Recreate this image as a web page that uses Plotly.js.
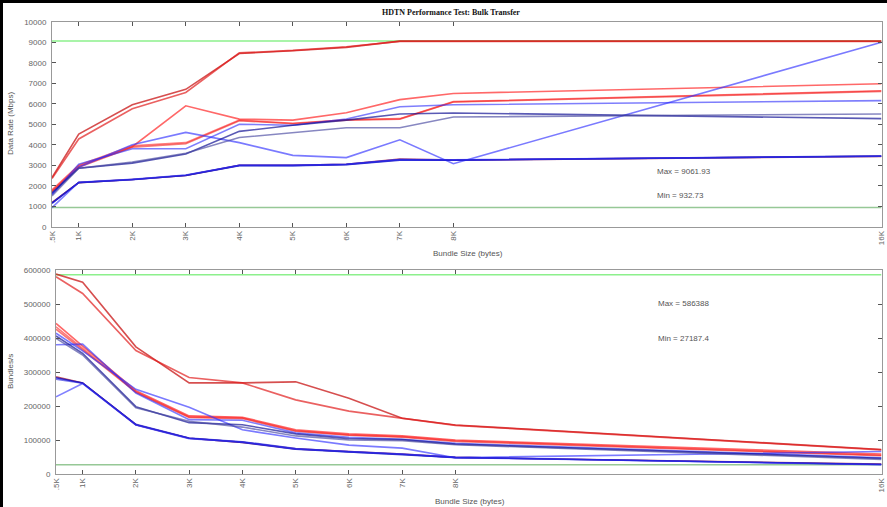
<!DOCTYPE html>
<html>
<head>
<meta charset="utf-8">
<script src="https://cdn.plot.ly/plotly-3.0.1.min.js"></script>
<style>
html,body{margin:0;padding:0;background:#000;overflow:hidden;}
#chart{position:absolute;left:3px;top:3px;width:884px;height:504px;background:#fff;}
</style>
</head>
<body>
<div id="chart"></div>
<script>
// ---- data ----
var bundleSizeK = [0.5, 1, 2, 3, 4, 5, 6, 7, 8, 16];
var bundleSizeLabels = ['.5K', '1K', '2K', '3K', '4K', '5K', '6K', '7K', '8K', '16K'];
var rateTicks = [0, 1000, 2000, 3000, 4000, 5000, 6000, 7000, 8000, 9000, 10000];
var bundleTicks = [0, 100000, 200000, 300000, 400000, 500000, 600000];

// Data rate (Mbps)
var rateR1 = [2400, 4520, 5950, 6700, 8450, 8580, 8750, 9050, 9050, 9050];
var rateR2 = [2350, 4280, 5750, 6550, 8480, 8600, 8780, 9040, 9040, 9040];
var rateR3 = [1750, 2950, 3900, 5900, 5250, 5200, 5560, 6200, 6500, 6970];
var rateR4 = [1800, 3000, 3950, 4100, 5200, 5050, 5220, 5270, 6100, 6630];
var rateR5 = [1700, 2900, 3880, 4050, 5170, 5020, 5200, 5250, 6080, 6600];
var rateR6 = [1180, 2150, 2300, 2500, 3000, 3000, 3050, 3300, 3250, 3430];
var rateB1 = [1600, 2900, 4000, 4600, 4100, 3480, 3370, 4240, 3070, 9000];
var rateB2 = [1560, 3050, 3800, 3800, 5000, 4950, 5250, 5850, 5950, 6150];
var rateB3 = [1650, 2850, 3100, 3550, 4650, 4950, 5200, 5500, 5550, 5270];
var rateB4 = [1500, 2850, 3150, 3580, 4350, 4600, 4830, 4830, 5350, 5500];
var rateB5 = [1150, 2150, 2300, 2500, 2980, 2980, 3030, 3250, 3250, 3450];
var rateB6 = [933, 2170, 2310, 2520, 3000, 2990, 3050, 3280, 3260, 3440];
var rateB7 = [1140, 2160, 2290, 2510, 2990, 2990, 3040, 3270, 3240, 3440];
var rateMax = 9061.93;
var rateMin = 932.73;

// Bundles per second
var bpsR1 = [588000, 564000, 374000, 268000, 268000, 271000, 223000, 164000, 144000, 72000];
var bpsR2 = [580000, 531000, 363000, 284000, 268000, 218000, 185000, 164000, 143000, 71000];
var bpsR3 = [443000, 376000, 245000, 171000, 167000, 130000, 118000, 112000, 100000, 59000];
var bpsR4 = [433000, 370000, 242000, 168000, 165000, 127000, 115000, 110000, 98000, 55000];
var bpsR5 = [426000, 365000, 240000, 166000, 163000, 126000, 114000, 108000, 96000, 54000];
var bpsR6 = [286000, 268000, 145000, 105000, 93000, 74000, 66000, 59000, 49000, 29000];
var bpsB1 = [414000, 362000, 249000, 196000, 130000, 106000, 85000, 76000, 48000, 66000];
var bpsB2 = [380000, 382000, 238000, 160000, 158000, 121000, 108000, 102000, 90000, 48000];
var bpsB3 = [406000, 355000, 198000, 151000, 145000, 118000, 104000, 101000, 88000, 46000];
var bpsB4 = [399000, 350000, 195000, 155000, 138000, 112000, 100000, 98000, 86000, 43000];
var bpsB5 = [283000, 268000, 145000, 105000, 93000, 73000, 65000, 58000, 49000, 28000];
var bpsB6 = [227000, 266000, 144000, 104000, 94000, 74000, 66000, 59000, 49000, 27187];
var bpsB7 = [279000, 267000, 146000, 106000, 95000, 75000, 65000, 58000, 48000, 28500];
var bpsMax = 586388;
var bpsMin = 27187.4;

// ---- styling ----
var seriesColors = {
  R1: 'rgba(200,20,20,0.75)', R2: 'rgba(225,30,30,0.7)', R3: 'rgba(255,40,40,0.7)',
  R4: 'rgba(255,50,50,0.65)', R5: 'rgba(240,30,30,0.6)', R6: 'rgba(170,20,40,0.7)',
  B1: 'rgba(50,50,255,0.65)', B2: 'rgba(40,40,250,0.6)', B3: 'rgba(20,20,150,0.7)',
  B4: 'rgba(70,70,160,0.65)', B5: 'rgba(0,0,190,0.75)', B6: 'rgba(60,60,255,0.65)',
  B7: 'rgba(30,30,220,0.6)'
};
var rateSeries = {R1: rateR1, R2: rateR2, R3: rateR3, R4: rateR4, R5: rateR5, R6: rateR6,
  B1: rateB1, B2: rateB2, B3: rateB3, B4: rateB4, B5: rateB5, B6: rateB6, B7: rateB7};
var bpsSeries = {R1: bpsR1, R2: bpsR2, R3: bpsR3, R4: bpsR4, R5: bpsR5, R6: bpsR6,
  B1: bpsB1, B2: bpsB2, B3: bpsB3, B4: bpsB4, B5: bpsB5, B6: bpsB6, B7: bpsB7};

var W = 884, H = 504, OX = 3, OY = 3;
function px(x) { return (x - OX) / W; }
function py(y) { return 1 - (y - OY) / H; }

var traces = [];
var maxGreen = 'rgb(140,240,140)', minGreen = 'rgb(150,200,150)';
function hline(v, color, xa, ya) {
  return {x: [bundleSizeK[0], bundleSizeK[bundleSizeK.length - 1]], y: [v, v], xaxis: xa, yaxis: ya,
    mode: 'lines', line: {color: color, width: 1.5}, showlegend: false, hoverinfo: 'skip'};
}
traces.push(hline(rateMax, maxGreen, 'x', 'y'));
traces.push(hline(rateMin, minGreen, 'x', 'y'));
traces.push(hline(bpsMax, maxGreen, 'x2', 'y2'));
traces.push(hline(bpsMin, minGreen, 'x2', 'y2'));
Object.keys(rateSeries).forEach(function (k) {
  traces.push({x: bundleSizeK, y: rateSeries[k], xaxis: 'x', yaxis: 'y', mode: 'lines',
    line: {color: seriesColors[k], width: 1.6}, showlegend: false, name: k});
});
Object.keys(bpsSeries).forEach(function (k) {
  traces.push({x: bundleSizeK, y: bpsSeries[k], xaxis: 'x2', yaxis: 'y2', mode: 'lines',
    line: {color: seriesColors[k], width: 1.6}, showlegend: false, name: k});
});

var tickFont = {family: 'Liberation Sans, Arial, sans-serif', size: 8, color: '#666'};
var lblFont = {family: 'Liberation Sans, Arial, sans-serif', size: 8, color: '#555'};
function xAxis(domain, anchor) {
  return {domain: domain, anchor: anchor, range: [0.5, 16.0001], tickvals: bundleSizeK, ticktext: bundleSizeLabels,
    tickangle: -90, ticks: 'inside', ticklen: 4, tickcolor: '#555', tickwidth: 1,
    showline: true, linecolor: '#999', linewidth: 1, mirror: 'ticks', showgrid: false, zeroline: false,
    tickfont: tickFont, fixedrange: true, automargin: false, ticklabeloverflow: 'allow'};
}
function yAxis(domain, anchor, range, tickvals) {
  return {domain: domain, anchor: anchor, range: range, tickvals: tickvals, tickformat: 'd',
    ticks: 'inside', ticklen: 4, tickcolor: '#555', tickwidth: 1,
    showline: true, linecolor: '#999', linewidth: 1, mirror: 'ticks', showgrid: false, zeroline: false,
    tickfont: tickFont, fixedrange: true, automargin: false, ticklabelstandoff: 3, ticklabeloverflow: 'allow'};
}

var layout = {
  width: W, height: H, margin: {l: 0, r: 0, t: 0, b: 0},
  paper_bgcolor: '#fff', plot_bgcolor: '#fff', showlegend: false, hovermode: false,
  xaxis: xAxis([px(52), px(881.5)], 'y'),
  yaxis: yAxis([py(226.7), py(21.7)], 'x', [0, 10000], rateTicks),
  xaxis2: xAxis([px(56), px(881.5)], 'y2'),
  yaxis2: yAxis([py(474), py(270)], 'x2', [0, 600000], bundleTicks),
  annotations: [
    {text: '<b>HDTN Performance Test: Bulk Transfer</b>', xref: 'paper', yref: 'paper', x: px(451), y: py(12),
      showarrow: false, xanchor: 'center', yanchor: 'middle',
      font: {family: 'Liberation Serif, Times New Roman, serif', size: 8, color: '#111'}},
    {text: 'Bundle Size (bytes)', xref: 'paper', yref: 'paper', x: px(468), y: py(253),
      showarrow: false, xanchor: 'center', yanchor: 'middle', font: lblFont},
    {text: 'Bundle Size (bytes)', xref: 'paper', yref: 'paper', x: px(470), y: py(501),
      showarrow: false, xanchor: 'center', yanchor: 'middle', font: lblFont},
    {text: 'Data Rate (Mbps)', xref: 'paper', yref: 'paper', x: px(10), y: py(124), textangle: -90,
      showarrow: false, xanchor: 'center', yanchor: 'middle', font: lblFont},
    {text: 'Bundles/s', xref: 'paper', yref: 'paper', x: px(10), y: py(372), textangle: -90,
      showarrow: false, xanchor: 'center', yanchor: 'middle', font: lblFont},
    {text: 'Max = ' + rateMax, xref: 'paper', yref: 'paper', x: px(655), y: py(172),
      showarrow: false, xanchor: 'left', yanchor: 'middle', font: lblFont},
    {text: 'Min = ' + rateMin, xref: 'paper', yref: 'paper', x: px(655), y: py(195),
      showarrow: false, xanchor: 'left', yanchor: 'middle', font: lblFont},
    {text: 'Max = ' + bpsMax, xref: 'paper', yref: 'paper', x: px(656), y: py(303),
      showarrow: false, xanchor: 'left', yanchor: 'middle', font: lblFont},
    {text: 'Min = ' + bpsMin, xref: 'paper', yref: 'paper', x: px(656), y: py(338),
      showarrow: false, xanchor: 'left', yanchor: 'middle', font: lblFont}
  ]
};

Plotly.newPlot('chart', traces, layout, {staticPlot: true, displayModeBar: false});
</script>
</body>
</html>
